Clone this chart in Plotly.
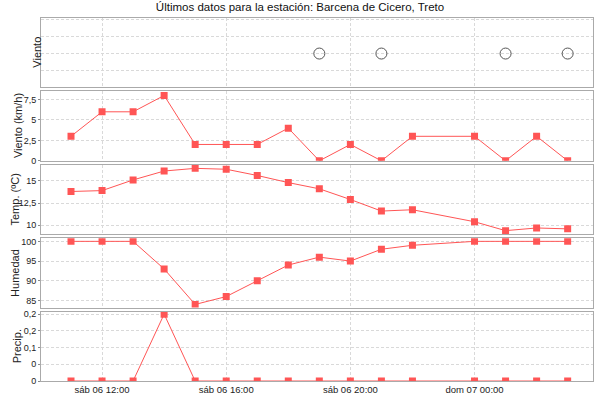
import plotly.graph_objects as go
from plotly.subplots import make_subplots

# hourly readings (23:00 missing in the source)
times = [
    "2013-07-06 11:00", "2013-07-06 12:00", "2013-07-06 13:00", "2013-07-06 14:00",
    "2013-07-06 15:00", "2013-07-06 16:00", "2013-07-06 17:00", "2013-07-06 18:00",
    "2013-07-06 19:00", "2013-07-06 20:00", "2013-07-06 21:00", "2013-07-06 22:00",
    "2013-07-07 00:00", "2013-07-07 01:00", "2013-07-07 02:00", "2013-07-07 03:00",
]
wind_kmh = [3, 6, 6, 8, 2, 2, 2, 4, 0, 2, 0, 3, 3, 0, 3, 0]
temp_c = [13.8, 13.9, 15.1, 16.1, 16.4, 16.3, 15.6, 14.8, 14.1, 12.9, 11.6, 11.75, 10.4, 9.4, 9.7, 9.6]
humidity = [100, 100, 100, 93, 84, 86, 90, 94, 96, 95, 98, 99, 100, 100, 100, 100]
precip = [0, 0, 0, 0.2, 0, 0, 0, 0, 0, 0, 0, 0, 0, 0, 0, 0]

# calm readings shown as open circles in the wind-direction strip
calm_times = ["2013-07-06 19:00", "2013-07-06 21:00", "2013-07-07 01:00", "2013-07-07 03:00"]
calm_level = [2, 2, 2, 2]

x_ticks = ["2013-07-06 12:00", "2013-07-06 16:00", "2013-07-06 20:00", "2013-07-07 00:00"]
x_ticktext = ["sáb 06 12:00", "sáb 06 16:00", "sáb 06 20:00", "dom 07 00:00"]
x_range = ["2013-07-06 10:02", "2013-07-07 03:49"]

wind_ticks = [0, 2.5, 5, 7.5]
wind_ticktext = ["0", "2,5", "5", "7,5"]
temp_ticks = [10, 12.5, 15]
temp_ticktext = ["10", "12,5", "15"]
hum_ticks = [85, 90, 95, 100]
precip_ticks = [0, 0.05, 0.1, 0.15, 0.2]
precip_ticktext = ["0", "0", "0,1", "0,2", "0,2"]

panel_titles = ["Viento", "Viento (km/h)", "Temp. (ºC)", "Humedad", "Precip."]

RED = "#ff5555"
FONT = "Liberation Sans, Arial, sans-serif"

fig = make_subplots(rows=5, cols=1, shared_xaxes=True, vertical_spacing=0.011)

fig.add_trace(go.Scatter(
    x=calm_times, y=calm_level, mode="markers",
    marker=dict(symbol="circle-open", size=11, color="#555555", line=dict(width=1)),
), row=1, col=1)

for i, vals in enumerate([wind_kmh, temp_c, humidity, precip]):
    fig.add_trace(go.Scatter(
        x=times, y=vals, mode="lines+markers",
        line=dict(color=RED, width=1),
        marker=dict(symbol="square", size=7, color=RED),
    ), row=i + 2, col=1)

fig.update_xaxes(
    range=x_range, tickvals=x_ticks, ticktext=x_ticktext, automargin=False,
    showgrid=True, gridcolor="#d9d9d9", griddash="3px,2px", gridwidth=1,
    showline=True, mirror=True, linecolor="#aaaaaa", linewidth=1,
    ticks="", tickfont=dict(size=9.5, color="#222"),
)
fig.update_yaxes(
    automargin=False,
    showgrid=True, gridcolor="#d9d9d9", griddash="3px,2px", gridwidth=1,
    showline=True, mirror=True, linecolor="#aaaaaa", linewidth=1,
    zeroline=False, ticks="outside", ticklen=2, tickcolor="#888",
    tickfont=dict(size=9, color="#222"),
)

fig.update_yaxes(row=1, col=1, range=[0, 4.1], tickvals=[1, 2, 3, 4],
                 showticklabels=False, ticks="")
fig.update_yaxes(row=2, col=1, range=[0, 8.5], tickvals=wind_ticks, ticktext=wind_ticktext)
fig.update_yaxes(row=3, col=1, range=[9.0, 16.8], tickvals=temp_ticks, ticktext=temp_ticktext)
fig.update_yaxes(row=4, col=1, range=[83.2, 100.8], tickvals=hum_ticks)
fig.update_yaxes(row=5, col=1, range=[0, 0.2076], tickvals=precip_ticks, ticktext=precip_ticktext)

# axis titles placed by hand, each sits left of its own tick labels
title_shift = [-4, -23, -27, -26, -24]
for i, (txt, dx) in enumerate(zip(panel_titles, title_shift)):
    yref = "y domain" if i == 0 else f"y{i + 1} domain"
    fig.add_annotation(text=txt, textangle=-90, xref="paper", yref=yref,
                       x=0, y=0.5, xanchor="center", yanchor="middle",
                       xshift=dx, showarrow=False,
                       font=dict(size=11, color="#222"))

fig.update_layout(
    width=600, height=400,
    margin=dict(l=41, r=7, t=18, b=19),
    paper_bgcolor="white", plot_bgcolor="white",
    font=dict(family=FONT, color="#222"),
    showlegend=False,
    title=dict(text="Últimos datos para la estación: Barcena de Cicero, Treto",
               x=0.5, xanchor="center", y=0.9825, yanchor="middle",
               font=dict(size=11.5, color="#111")),
)

# drop the default page margin so the 600x400 figure fills the window
fig.write_html("out.html", config={"displayModeBar": False},
               post_script="document.body.style.margin = '0';")
